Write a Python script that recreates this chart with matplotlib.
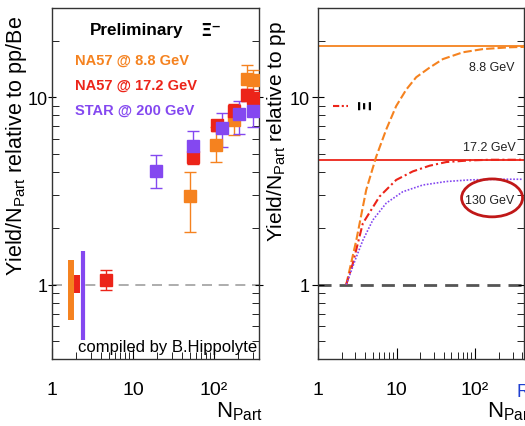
import numpy as np
import matplotlib
matplotlib.use("Agg")
import matplotlib.pyplot as plt
from matplotlib.patches import Ellipse
from matplotlib.lines import Line2D

plt.rcParams['font.family'] = ['Liberation Sans', 'DejaVu Sans']
plt.rcParams['mathtext.fontset'] = 'custom'
plt.rcParams['mathtext.rm'] = 'Liberation Sans'
plt.rcParams['mathtext.it'] = 'Liberation Sans:italic'
plt.rcParams['mathtext.bf'] = 'Liberation Sans:bold'

ORANGE = '#f5821f'
RED = '#ec2419'
PURPLE = '#8448f0'

W, H = 525, 427

# --- left panel: measured enhancements (Xi) ---
npart_88 = [50, 105, 177, 255, 302]
yield_88 = [2.96, 5.57, 7.55, 12.6, 12.3]
lo_88 = [1.91, 4.53, 6.3, 10.5, 10.6]
hi_88 = [4.01, 6.95, 8.5, 14.8, 14.0]

npart_172 = [4.6, 55, 109, 177, 255, 302]
yield_172 = [1.06, 4.8, 7.1, 8.5, 10.3, 9.9]
lo_172 = [0.93, 4.4, 6.6, 7.8, 9.5, 8.9]
hi_172 = [1.19, 5.4, 7.6, 9.2, 11.1, 11.0]

npart_200 = [19.2, 55, 126, 203, 302]
yield_200 = [4.06, 5.5, 6.86, 8.1, 8.5]
lo_200 = [3.26, 4.5, 5.4, 6.4, 6.9]
hi_200 = [4.93, 6.6, 8.2, 9.6, 9.8]

# reference (pp / pBe) normalisation bands
ref_x = [1.72, 2.03, 2.41]
ref_lo = [0.65, 0.90, 0.505]
ref_hi = [1.36, 1.12, 1.51]
ref_colors = [ORANGE, RED, PURPLE]
ref_widths = [4.3, 4.3, 3.0]

# --- right panel: canonical suppression curves ---
curve_88_x = [2.29, 3.07, 4.11, 5.51, 7.39, 9.9, 13.3, 17.8, 26.3, 38.9, 70, 126, 275, 427]
curve_88_y = [1.0, 1.72, 3.2, 4.82, 6.73, 8.98, 11.0, 12.8, 14.4, 16.0, 17.4, 18.1, 18.5, 18.6]

curve_172_x = [2.29, 2.77, 3.72, 6.07, 9.9, 16.1, 26.3, 43, 85, 153, 427]
curve_172_y = [1.0, 1.29, 2.12, 2.95, 3.62, 4.02, 4.31, 4.51, 4.6, 4.64, 4.64]

curve_130_x = [2.29, 3.07, 3.72, 4.99, 7.39, 12.0, 21.6, 43, 85, 186, 406]
curve_130_y = [1.0, 1.40, 1.72, 2.21, 2.72, 3.13, 3.40, 3.55, 3.62, 3.65, 3.65]

limit_88 = 18.7
limit_172 = 4.64

xticks = [1, 10, 100]
xticklabels = ['1', '10', '10²']


def px(x, y):
    # pixel position from the top-left corner -> figure fraction
    return x / W, 1 - y / H


fig = plt.figure(figsize=(5.25, 4.27), dpi=100)
fig.patch.set_facecolor('white')
ax1 = fig.add_axes([52 / W, 1 - 360 / H, 207 / W, 351 / H])
ax2 = fig.add_axes([318 / W, 1 - 360 / H, 206 / W, 351 / H])

for ax in (ax1, ax2):
    ax.set_xscale('log')
    ax.set_yscale('log')
    ax.set_ylim(0.4, 30)
    ax.set_xticks(xticks)
    ax.set_xticklabels(xticklabels)
    ax.set_yticks([1, 10])
    ax.set_yticklabels(['1', '10'])
    ax.tick_params(axis='x', which='both', direction='in', bottom=True, top=False,
                   labelsize=14, pad=16)
    ax.tick_params(axis='x', which='major', length=8)
    ax.tick_params(axis='x', which='minor', length=5)
    ax.tick_params(axis='y', which='major', direction='inout',
                   left=True, right=True, labelsize=13)
    ax.tick_params(axis='y', which='minor', direction='in', length=5,
                   left=True, right=True, labelleft=False)
    for sp in ax.spines.values():
        sp.set_color('#333333')
        sp.set_linewidth(1.0)

ax1.set_xlim(1, 360)
ax2.set_xlim(1, 420)
ax1.tick_params(axis='y', which='major', length=6, pad=0)
ax2.tick_params(axis='y', which='major', length=8, pad=2)

# left panel
ax1.axhline(1, color='#a0a0a0', lw=1.2, dashes=(6, 4), zorder=1)
for x, lo, hi, c, w in zip(ref_x, ref_lo, ref_hi, ref_colors, ref_widths):
    ax1.vlines(x, lo, hi, color=c, lw=w, zorder=3)

for xs, ys, lo, hi, c in [(npart_88, yield_88, lo_88, hi_88, ORANGE),
                          (npart_172, yield_172, lo_172, hi_172, RED),
                          (npart_200, yield_200, lo_200, hi_200, PURPLE)]:
    ys = np.array(ys)
    yerr = [ys - np.array(lo), np.array(hi) - ys]
    ax1.errorbar(xs, ys, yerr=yerr, fmt='s', ms=9, color=c, ecolor=c,
                 elinewidth=1, capsize=4, capthick=1, zorder=4)

fig.text(*px(137, 31), 'Preliminary', ha='center', va='center',
         fontsize=12.3, fontweight='bold')
fig.text(*px(211, 31), 'Ξ⁻', ha='center', va='center', fontsize=13,
         fontweight='bold', family=['DejaVu Sans'])
fig.text(*px(75, 61), 'NA57 @ 8.8 GeV', ha='left', va='center',
         fontsize=10.5, fontweight='bold', color=ORANGE)
fig.text(*px(75, 86), 'NA57 @ 17.2 GeV', ha='left', va='center',
         fontsize=10.5, fontweight='bold', color=RED)
fig.text(*px(75, 111), 'STAR @ 200 GeV', ha='left', va='center',
         fontsize=10.5, fontweight='bold', color=PURPLE)
ax1.text(0.99, 0.015, 'compiled by B.Hippolyte', transform=ax1.transAxes,
         ha='right', va='bottom', fontsize=12)

# right panel
ax2.axhline(1, color='#555555', lw=2, dashes=(4.7, 2.9), zorder=1)
ax2.axhline(limit_88, color=ORANGE, lw=1.3, zorder=2)
ax2.axhline(limit_172, color=RED, lw=1.3, zorder=2)
ax2.plot(curve_88_x, curve_88_y, color=ORANGE, lw=1.5, dashes=(4, 1.5), zorder=3)
ax2.plot(curve_172_x, curve_172_y, color=RED, lw=1.5, dashes=(4, 1.5, 1, 1.5), zorder=3)
ax2.plot(curve_130_x, curve_130_y, color=PURPLE, lw=1.2, dashes=(1, 1), zorder=3)

fig.text(*px(492, 68), '8.8 GeV', ha='center', va='center', fontsize=9,
         color='#222222')
fig.text(*px(489, 148), '17.2 GeV', ha='center', va='center', fontsize=9,
         color='#222222')
fig.text(*px(490, 201), '130 GeV', ha='center', va='center', fontsize=9,
         color='#222222')
ax2.add_patch(Ellipse((0.845, 0.459), 0.296, 0.108, transform=ax2.transAxes,
                      fill=False, edgecolor='#c01818', lw=2, zorder=5))

# legend sample for the Xi curve, symbol written sideways next to it
handle = Line2D([], [], color=RED, lw=1.5, dashes=(3, 1.2, 1, 1.2))
ax2.legend([handle], [''], loc='center left', bbox_to_anchor=(0.01, 0.718),
           frameon=False, handlelength=1.1, handletextpad=0.0)
fig.text(*px(365, 104), 'Ξ', rotation=90, ha='center', va='center',
         fontsize=13, fontweight='bold', family=['DejaVu Sans'])

# axis titles
fig.text(*px(17, 146), 'Yield/N$_{\\mathrm{Part}}$ relative to pp/Be',
         rotation=90, ha='center', va='center', fontsize=15.5)
fig.text(*px(277, 131), 'Yield/N$_{\\mathrm{Part}}$ relative to pp',
         rotation=90, ha='center', va='center', fontsize=15)
fig.text(*px(239, 412), 'N$_{\\mathrm{Part}}$', ha='center', va='center',
         fontsize=16)
fig.text(*px(487, 412), 'N$_{\\mathrm{Part}}$', ha='left', va='center',
         fontsize=16)
fig.text(*px(517, 393), 'R', ha='left', va='center', fontsize=13,
         color='#2040d0')

fig.savefig('out.png', dpi=100)
